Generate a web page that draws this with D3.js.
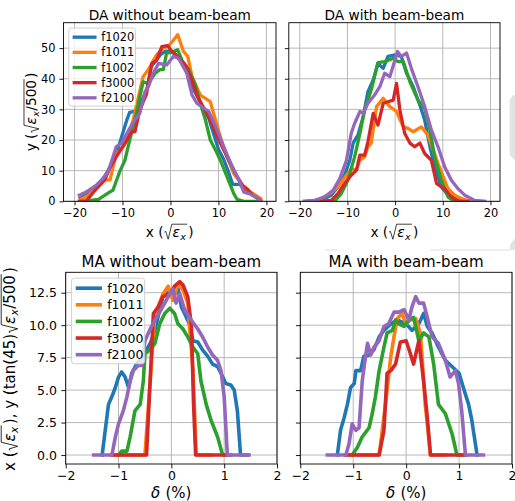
<!DOCTYPE html>
<html>
<head>
<meta charset="utf-8">
<script src="https://cdn.jsdelivr.net/npm/d3@7"></script>
<style>
body { margin: 0; background: #fff; }
svg { display: block; font-family: "DejaVu Sans", sans-serif; }
</style>
</head>
<body>
<div id="chart"></div>
<script>

// series names and colours (same for all four panels)
var seriesNames = ["f1020", "f1011", "f1002", "f3000", "f2100"];
var seriesColors = ["#1f77b4", "#ff7f0e", "#2ca02c", "#d62728", "#9467bd"];

// tick values
var daXTicks = [-20, -10, 0, 10, 20];
var daYTicks = [0, 10, 20, 30, 40, 50];
var maXTicks = [-2, -1, 0, 1, 2];
var maYTicks = [0, 2.5, 5, 7.5, 10, 12.5];

// DA without beam-beam : [x, y]
var daNoBB_f1020 = [[-18.8,1],[-17,2.5],[-15,5],[-13,10],[-11,17],[-10,22],[-9,27],[-8.5,29],[-7,29.5],[-6,33],[-5,36],[-4,44],[-3,46],[-2,48],[-1,49],[0,49],[1,48],[2,46],[3,44],[4,40],[5,36],[6,33],[7,30],[8,27],[9,22],[10,17],[11,14],[12,10],[13,5.5],[14.5,5.5],[15.5,4],[17,2.5],[18.7,0.5]];
var daNoBB_f1011 = [[-18.8,0.5],[-17,2],[-15.5,4.7],[-13.6,7],[-12.6,7],[-11.3,15.6],[-10.2,17],[-9,20],[-7.8,26.5],[-5.7,40.7],[-4.6,43],[-2.9,47.8],[-1.5,50],[-0.2,51],[1.5,54.4],[2.7,49],[3.6,47.3],[4.5,40.7],[6.2,34.7],[8.3,32.5],[10.4,21],[11.8,14.5],[13.2,9],[15.3,4.7],[16.7,3],[18.8,0.9]];
var daNoBB_f1002 = [[-18.5,0],[-15,0.6],[-12.7,3],[-12,3.6],[-10.6,9.6],[-9.5,13.4],[-8.5,20],[-7.4,26.5],[-6.4,34],[-5.7,39],[-4.6,38.5],[-3.2,41.8],[-2.2,43],[-1.5,43],[-0.8,48.4],[0,48.5],[1.5,49.5],[2.4,46],[3.8,43],[5.2,38],[6.2,32],[7.3,26.5],[8.3,20],[9.4,16.7],[10.4,13.4],[11.8,8],[13.2,2.5],[13.9,0.6],[15.3,0],[18.5,0]];
var daNoBB_f3000 = [[-19,0],[-17.6,0],[-15.5,4],[-13.7,7],[-12.7,10.7],[-11.3,14.5],[-9.5,19],[-8.1,22.7],[-7.4,22.7],[-6.4,29.8],[-5,35],[-3.9,45],[-2.9,46],[-1.8,50.5],[-0.6,50.8],[0.3,49],[1.7,47],[3.1,44.5],[4.5,39.6],[5.5,34.7],[6.6,31.4],[8.3,26.5],[10.1,20],[11.8,14.5],[13.6,9],[15,5.2],[16,4],[17.1,2],[18.8,0.3]];
var daNoBB_f2100 = [[-19,2],[-17.6,3],[-15.5,5.2],[-14.1,7.4],[-13,9.6],[-11.3,17.8],[-10.2,19],[-8.5,23.8],[-7.4,26.5],[-6.4,28.7],[-5.3,35.8],[-4.6,37.4],[-3.6,41.8],[-2.5,45],[-0.8,44.5],[0.6,47.3],[1.7,46.7],[3.4,41.8],[4.5,34.7],[5.5,32],[7,30.3],[8,29.3],[9.7,23.3],[11.1,17.8],[12.9,11.2],[14.3,6.9],[15.3,3],[16.4,2.5],[17.8,1.4],[18.8,0.3]];

// DA with beam-beam : [x, y]
var daBB_f1020 = [[-19,0],[-15.5,0.3],[-13.4,2],[-12,4.7],[-10.6,8.5],[-9.5,13.4],[-8.8,19],[-7.8,21.6],[-6.7,27.6],[-5.7,35.8],[-4.6,39.6],[-3.6,45],[-2.5,43.4],[-1.5,47.3],[0,47.8],[1.3,47.3],[2.4,41.8],[3.8,37.4],[5.2,31.4],[6.2,26.5],[7.3,17.8],[8.3,11.2],[9.7,4.7],[11.1,2],[12.5,1.4],[14.3,0.3],[16,0]];
var daBB_f1011 = [[-16.9,0],[-15.5,0.9],[-13.7,2.5],[-12,4.7],[-10.2,8.5],[-9.2,10.7],[-8.1,10.2],[-7.4,13.4],[-6.4,14.5],[-5.7,17.8],[-5,19],[-3.9,30.9],[-2.5,33.6],[-1.1,30.9],[0.3,29.3],[1.7,24.3],[2.7,23.8],[3.8,22.7],[5.5,24.3],[6.9,21.6],[8,16.7],[9,12.3],[10.1,8],[11.1,4.1],[12.5,2],[13.9,0.9],[15.7,0]];
var daBB_f1002 = [[-18.3,0],[-12.7,0],[-11.3,2.5],[-9.9,6.9],[-8.5,14.5],[-7.4,22],[-6.4,29.8],[-5,36.4],[-3.6,45.3],[-2.2,45.6],[-0.4,46.7],[0.6,45.6],[1.7,45.6],[3.1,39],[4.8,33],[6.2,30.3],[7.3,23.3],[8.3,14.5],[9.7,6.9],[11.1,1.4],[12.5,0],[13.9,0]];
var daBB_f3000 = [[-15.5,0],[-13.4,0.3],[-12,2.5],[-10.6,5.8],[-9.2,8.5],[-8.1,10.2],[-7.4,15.1],[-6.4,15.1],[-5.7,19.4],[-4.6,28.7],[-3.6,24.9],[-2.5,32],[-1.5,32.5],[-0.4,33],[0.3,38.5],[1,29.8],[2,22.2],[3.1,19],[4.1,17.8],[5.2,19],[6.2,15.6],[7.6,13.4],[8.7,5.8],[10.4,4.1],[11.8,1.4],[13.2,0],[15.3,0]];
var daBB_f2100 = [[-19,0],[-16.9,0.3],[-14.8,1.4],[-13,3.6],[-11.6,7.4],[-10.2,13.4],[-9.2,22.2],[-8.5,25.4],[-7.4,29.3],[-6.7,28.7],[-5.7,32],[-4.3,34.7],[-3.2,37.4],[-2.2,41.8],[-1.1,40.7],[0.5,48.9],[1.3,47.3],[2.4,48.4],[3.4,43.4],[4.8,37.4],[6.2,30.9],[7.6,23.3],[9,17.8],[10.4,11.2],[11.8,6.9],[13.2,4.1],[14.6,2],[16.7,0.3],[18.8,0]];

// MA without beam-beam : [delta (%), amplitude]
var maNoBB_f1020 = [[-1.31,0],[-1.19,3.9],[-1.125,4.5],[-1.06,5.2],[-1,6],[-0.94,6.4],[-0.875,6],[-0.81,5.2],[-0.75,6.3],[-0.66,7],[-0.56,7.5],[-0.5,7.9],[-0.4,8.6],[-0.31,9.6],[-0.22,11.2],[-0.16,12.2],[-0.09,12.4],[0,12.7],[0.06,12.3],[0.125,12.9],[0.19,11.4],[0.25,10.9],[0.34,10.1],[0.41,8.8],[0.5,8.7],[0.59,8.1],[0.69,7.6],[0.78,7],[0.875,6.8],[0.94,6.3],[1.03,5.5],[1.125,5.4],[1.19,5],[1.25,3.4],[1.31,0],[1.44,0]];
var maNoBB_f1011 = [[-1.125,0],[-0.5,0],[-0.31,10.9],[-0.22,11.7],[-0.16,12.4],[-0.06,13],[0.03,11.9],[0.125,13.2],[0.22,12.7],[0.31,11.7],[0.41,6.5],[0.47,0],[0.75,0]];
var maNoBB_f1002 = [[-1,0],[-0.94,0.3],[-0.84,0.3],[-0.78,1.4],[-0.69,3.4],[-0.59,3.9],[-0.53,5.7],[-0.5,7.8],[-0.41,8.1],[-0.31,8.6],[-0.22,10.1],[-0.125,10.9],[-0.03,11.3],[0.06,10.9],[0.125,10.1],[0.22,9.7],[0.31,9.1],[0.41,8.3],[0.5,7.8],[0.56,5.7],[0.66,3.9],[0.75,2.7],[0.875,1.4],[0.97,0],[1.125,0]];
var maNoBB_f3000 = [[-1.125,0],[-0.47,0],[-0.34,10.9],[-0.25,11.4],[-0.16,12.2],[-0.03,12.4],[0.06,13],[0.16,13.35],[0.22,13.1],[0.31,12.2],[0.38,10],[0.42,4],[0.46,0],[1.06,0]];
var maNoBB_f2100 = [[-1.47,0],[-1.125,0],[-1.06,1.4],[-1,2.4],[-0.91,3.4],[-0.84,4.5],[-0.78,5.7],[-0.72,6.5],[-0.625,6.9],[-0.56,6.9],[-0.5,8.8],[-0.4,9.7],[-0.31,10.4],[-0.22,11],[-0.125,11.7],[-0.03,12.4],[0.03,12.8],[0.09,11.7],[0.16,12.4],[0.25,11.2],[0.375,10.4],[0.5,9.7],[0.59,9.1],[0.69,8.3],[0.78,7.7],[0.875,7.3],[0.94,6.5],[1,4.5],[1.06,0],[1.47,0]];

// MA with beam-beam : [delta (%), amplitude]
var maBB_f1020 = [[-1.3,0],[-1.24,1.9],[-1.17,2.9],[-1.11,3.9],[-1.05,5.2],[-0.98,5.5],[-0.95,6.5],[-0.86,6.5],[-0.8,7.6],[-0.7,7.7],[-0.61,8.1],[-0.51,9.1],[-0.42,9.6],[-0.29,10.1],[-0.17,10.4],[0,10.1],[0.11,9.6],[0.24,10.1],[0.33,10.9],[0.4,9.9],[0.49,9.4],[0.61,8.3],[0.74,7.3],[0.87,6.8],[1,6.3],[1.08,5.2],[1.18,3.9],[1.24,2.7],[1.34,0]];
var maBB_f1011 = [[-1.14,0],[-0.51,0],[-0.39,3.9],[-0.29,7.6],[-0.23,9.1],[-0.17,10.5],[-0.08,10.9],[0,10.1],[0.08,10.4],[0.18,10.5],[0.27,9.4],[0.36,3.9],[0.46,0],[0.74,0]];
var maBB_f1002 = [[-1.02,0],[-0.92,0.6],[-0.83,1.4],[-0.7,2.1],[-0.64,3.2],[-0.58,4.5],[-0.51,6.5],[-0.42,8.3],[-0.36,9.4],[-0.26,9.6],[-0.2,10.4],[-0.14,10.1],[-0.04,9.9],[0.05,10.4],[0.14,10.6],[0.24,8.8],[0.33,9.4],[0.43,9.1],[0.52,7],[0.61,3.9],[0.74,3.2],[0.87,1.6],[0.96,0],[1.12,0]];
var maBB_f3000 = [[-1.14,0],[-0.51,0],[-0.42,1.9],[-0.36,6.3],[-0.29,6.5],[-0.2,7],[-0.11,8.7],[0,8.8],[0.08,7.8],[0.14,7],[0.24,8.8],[0.33,5.7],[0.4,2.9],[0.46,0],[1.12,0]];
var maBB_f2100 = [[-1.49,0],[-1.14,0],[-1.08,0.85],[-1.02,2.4],[-0.95,1.9],[-0.89,2.1],[-0.83,5.7],[-0.76,7.8],[-0.73,8.6],[-0.67,7.7],[-0.61,8.3],[-0.51,8.8],[-0.42,9.9],[-0.33,10.1],[-0.23,11],[-0.14,11],[-0.04,11.2],[0.05,10.4],[0.11,11.4],[0.18,12.2],[0.24,11.7],[0.33,11.7],[0.4,10.6],[0.49,9.1],[0.61,8.6],[0.74,7.3],[0.83,6],[0.93,6.5],[0.99,5.5],[1.05,3.4],[1.12,0],[1.46,0]];


var svg = d3.select("#chart").append("svg")
    .attr("width", 515)
    .attr("height", 501);

// tick font sizes; titles and axis labels are 1.2x
var topFs = 11.4, botFs = 12.5;

// label pieces (mathtext like): sqrt(eps_x) and sqrt(eps_x/500)
var sqrtEps = {sqrt: [{t: "ε", it: 1}, {t: "x", it: 1, sub: 1}]};
var sqrtEps500 = {sqrt: [{t: "ε", it: 1}, {t: "x", it: 1, sub: 1}, {t: "/500"}]};


// writes a label piece by piece, draws the radicals by hand
function mathLabel(parent, items, fs)
{
  var g = parent.append("g");
  var cursor = 0;

  function put(list) {
    list.forEach(function(it) {
      if (it.sqrt) {
        var x0 = cursor + fs * 0.06;
        cursor += fs * 0.66;
        var start = cursor;
        put(it.sqrt);
        var end = cursor + fs * 0.06;
        g.append("path")
            .attr("d", "M" + x0 + "," + (-0.32 * fs) +
                       "L" + (x0 + 0.1 * fs) + "," + (-0.38 * fs) +
                       "L" + (x0 + 0.28 * fs) + "," + (0.2 * fs) +
                       "L" + (start - 0.05 * fs) + "," + (-0.9 * fs) +
                       "L" + end + "," + (-0.9 * fs))
            .attr("fill", "none")
            .attr("stroke", "#000")
            .attr("stroke-width", fs * 0.055);
        cursor = end + fs * 0.08;
      } else {
        var t = g.append("text")
            .attr("x", cursor)
            .attr("y", it.sub ? fs * 0.22 : 0)
            .style("font-size", (it.sub ? fs * 0.7 : fs) + "px")
            .style("font-style", it.it ? "italic" : "normal")
            .style("white-space", "pre")
            .text(it.t);
        cursor += t.node().getComputedTextLength() + (it.it ? fs * 0.03 : 0);
      }
    });
  }

  put(items);
  return {g: g, width: cursor};
}

// cx,cy = centre of the label on its baseline
function placeLabel(items, fs, cx, cy, rotate)
{
  var outer = svg.append("g")
      .attr("transform", "translate(" + cx + "," + cy + ")" + (rotate ? " rotate(-90)" : ""));
  var m = mathLabel(outer, items, fs);
  m.g.attr("transform", "translate(" + (-m.width / 2) + ",0)");
}


function drawPanel(p)
{
  var x = d3.scaleLinear().domain(p.xDomain).range([p.left, p.right]);
  var y = d3.scaleLinear().domain(p.yDomain).range([p.bottom, p.top]);
  var fs = p.fs;

  var g = svg.append("g");

  // grid
  g.selectAll(".vgrid").data(p.xTicks).enter().append("line")
      .attr("x1", function(d) { return x(d); })
      .attr("x2", function(d) { return x(d); })
      .attr("y1", p.top).attr("y2", p.bottom)
      .attr("stroke", "#b0b0b0").attr("stroke-width", 0.9);
  g.selectAll(".hgrid").data(p.yTicks).enter().append("line")
      .attr("y1", function(d) { return y(d); })
      .attr("y2", function(d) { return y(d); })
      .attr("x1", p.left).attr("x2", p.right)
      .attr("stroke", "#b0b0b0").attr("stroke-width", 0.9);

  // clip to the axes box
  svg.append("clipPath").attr("id", "clip" + p.id)
    .append("rect")
      .attr("x", p.left).attr("y", p.top)
      .attr("width", p.right - p.left).attr("height", p.bottom - p.top);

  // the curves
  var line = d3.line()
      .x(function(d) { return x(d[0]); })
      .y(function(d) { return y(d[1]); });

  g.append("g")
      .attr("clip-path", "url(#clip" + p.id + ")")
    .selectAll("path")
      .data(p.series)
      .enter().append("path")
      .attr("d", line)
      .attr("fill", "none")
      .attr("stroke", function(d, i) { return seriesColors[i]; })
      .attr("stroke-width", p.lw)
      .attr("stroke-linejoin", "round")
      .attr("stroke-linecap", "square");

  // Add the X Axis
  var ax = g.append("g")
      .attr("transform", "translate(0," + p.bottom + ")")
      .call(d3.axisBottom(x).tickValues(p.xTicks).tickSize(fs * 0.35).tickPadding(p.xPad)
              .tickFormat(d3.format("d")));

  // Add the Y Axis
  var ay = g.append("g")
      .attr("transform", "translate(" + p.left + ",0)")
      .call(d3.axisLeft(y).tickValues(p.yTicks).tickSize(fs * 0.35).tickPadding(fs * 0.35)
              .tickFormat(p.showY ? p.yFormat : function() { return ""; }));

  [ax, ay].forEach(function(a) {
    a.select(".domain").remove();
    a.attr("font-size", fs).attr("font-family", "DejaVu Sans");
    a.selectAll(".tick line").attr("stroke", "#000").attr("stroke-width", 0.9);
    a.selectAll(".tick text").attr("fill", "#000");
  });

  // spines
  g.append("rect")
      .attr("x", p.left).attr("y", p.top)
      .attr("width", p.right - p.left).attr("height", p.bottom - p.top)
      .attr("fill", "none").attr("stroke", "#000").attr("stroke-width", 0.9);

  // title
  g.append("text")
      .attr("x", (p.left + p.right) / 2)
      .attr("y", p.titleY)
      .style("text-anchor", "middle")
      .style("font-size", (fs * 1.2) + "px")
      .text(p.title);

  if (!p.legend) return;

  // legend
  var bx = p.left + fs * 0.47, by = p.top + fs * 0.47;
  var lg = g.append("g");
  lg.append("rect")
      .attr("x", bx).attr("y", by)
      .attr("width", fs * 5.85).attr("height", fs * 6.85)
      .attr("rx", fs * 0.22)
      .attr("fill", "#fff").attr("fill-opacity", 0.8)
      .attr("stroke", "#cccccc").attr("stroke-width", 0.9);

  seriesNames.forEach(function(name, i) {
    var cy = by + fs * 0.8 + i * fs * 1.33;
    lg.append("line")
        .attr("x1", bx + fs * 0.33).attr("x2", bx + fs * 2.43)
        .attr("y1", cy).attr("y2", cy)
        .attr("stroke", seriesColors[i]).attr("stroke-width", p.lw);
    lg.append("text")
        .attr("x", bx + fs * 2.85)
        .attr("y", cy + fs * 0.36)
        .style("font-size", fs + "px")
        .text(name);
  });
}


drawPanel({id: 1, title: "DA without beam-beam", left: 63.5, right: 276, top: 22.7, bottom: 201.3,
  xDomain: [-22.3, 22.0], yDomain: [0, 58.3], xTicks: daXTicks, yTicks: daYTicks,
  yFormat: d3.format("d"), showY: true, legend: true, fs: topFs, xPad: 3.8, lw: 3.3, titleY: 19.8,
  series: [daNoBB_f1020, daNoBB_f1011, daNoBB_f1002, daNoBB_f3000, daNoBB_f2100]});

drawPanel({id: 2, title: "DA with beam-beam", left: 288.8, right: 500, top: 22.7, bottom: 201.3,
  xDomain: [-22.3, 22.0], yDomain: [0, 58.3], xTicks: daXTicks, yTicks: daYTicks,
  yFormat: d3.format("d"), showY: false, legend: false, fs: topFs, xPad: 3.8, lw: 3.3, titleY: 19.8,
  series: [daBB_f1020, daBB_f1011, daBB_f1002, daBB_f3000, daBB_f2100]});

drawPanel({id: 3, title: "MA without beam-beam", left: 65.7, right: 277, top: 272.3, bottom: 464,
  xDomain: [-2, 2], yDomain: [-0.69, 14.07], xTicks: maXTicks, yTicks: maYTicks,
  yFormat: d3.format(".1f"), showY: true, legend: true, fs: botFs, xPad: 2.6, lw: 3.6, titleY: 266.5,
  series: [maNoBB_f1020, maNoBB_f1011, maNoBB_f1002, maNoBB_f3000, maNoBB_f2100]});

drawPanel({id: 4, title: "MA with beam-beam", left: 300.3, right: 512, top: 272.3, bottom: 464,
  xDomain: [-2, 2], yDomain: [-0.69, 14.07], xTicks: maXTicks, yTicks: maYTicks,
  yFormat: d3.format(".1f"), showY: false, legend: false, fs: botFs, xPad: 2.6, lw: 3.6, titleY: 266.5,
  series: [maBB_f1020, maBB_f1011, maBB_f1002, maBB_f3000, maBB_f2100]});


// axis labels
var topLab = topFs * 1.2, botLab = botFs * 1.2;
placeLabel([{t: "x ("}, sqrtEps, {t: ")"}], topLab, 169.7, 236.5, false);
placeLabel([{t: "x ("}, sqrtEps, {t: ")"}], topLab, 394.4, 236.5, false);
placeLabel([{t: "y ("}, sqrtEps500, {t: ")"}], topLab, 36.3, 112, true);

placeLabel([{t: "δ", it: 1}, {t: " (%)"}], botLab, 171.3, 498.3, false);
placeLabel([{t: "δ", it: 1}, {t: " (%)"}], botLab, 406.2, 498.3, false);
placeLabel([{t: "x ("}, sqrtEps, {t: "), y (tan(45)"}, sqrtEps500, {t: ")"}], botLab, 14.7, 369, true);


// light grey bits at the right edge of the original picture
svg.append("path").attr("d", "M509.7,100L513,95L515,95L515,160L514.5,160L509.7,155Z").attr("fill", "#e2e2e2");
svg.append("path").attr("d", "M510,245L515,238L515,250L510,250Z").attr("fill", "#e2e2e2");
svg.append("line").attr("x1", 325).attr("x2", 337).attr("y1", 250).attr("y2", 250).attr("stroke", "#dddddd");
svg.append("line").attr("x1", 430).attr("x2", 510).attr("y1", 250).attr("y2", 250).attr("stroke", "#dddddd");

</script>
</body>
</html>
